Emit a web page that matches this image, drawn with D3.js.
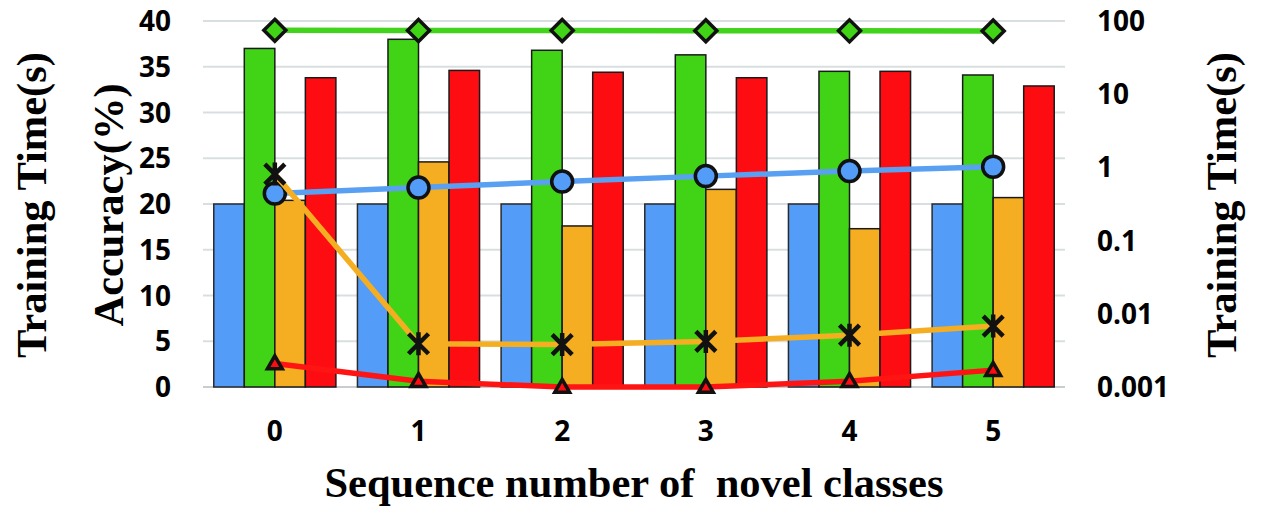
<!DOCTYPE html>
<html>
<head>
<meta charset="utf-8">
<script src="https://cdn.jsdelivr.net/npm/d3@7/dist/d3.min.js"></script>
<style>
  html, body { margin: 0; padding: 0; background: #fff; }
  svg { display: block; }
  .tick-label { font-family: "Open Sans", "Noto Sans", sans-serif; font-weight: 700; font-size: 28px; fill: #000; }
  .title { font-family: "Liberation Serif", "Times New Roman", serif; font-weight: 700; font-size: 42.5px; fill: #000; white-space: pre; }
</style>
</head>
<body>
<svg id="chart" width="1273" height="508"></svg>
<script>
// Categories along the x axis
const categories = ["0", "1", "2", "3", "4", "5"];

// Accuracy (%) bars, left axis
const accuracyBlue   = [20.0, 20.0, 20.0, 20.0, 20.0, 20.0];
const accuracyGreen  = [37.0, 38.0, 36.8, 36.3, 34.5, 34.1];
const accuracyOrange = [20.4, 24.6, 17.6, 21.6, 17.3, 20.7];
const accuracyRed    = [33.8, 34.6, 34.4, 33.8, 34.5, 32.9];

// Training time (s) lines, right log axis
const timeGreen  = [74.5, 74.3, 74.0, 73.5, 73.3, 73.2];
const timeBlue   = [0.44, 0.53, 0.64, 0.76, 0.89, 1.02];
const timeOrange = [0.81, 0.0039, 0.0038, 0.0042, 0.0051, 0.0068];
const timeRed    = [0.0021, 0.0012, 0.0010, 0.0010, 0.0012, 0.0017];

// Tick labels
const leftTicks  = [0, 5, 10, 15, 20, 25, 30, 35, 40];
const rightTicks = [0.001, 0.01, 0.1, 1, 10, 100];
const rightTickLabels = ["0.001", "0.01", "0.1", "1", "10", "100"];

const svg = d3.select("#chart");
const plot = { left: 203, right: 1065, top: 21, bottom: 387 };

const x0 = d3.scaleBand().domain(categories).range([plot.left, plot.right])
  .paddingInner(0.15).paddingOuter(0.075);
const barSeries = [
  { key: "blue",   values: accuracyBlue,   color: "#539CF7", stroke: "#2a2a2a" },
  { key: "green",  values: accuracyGreen,  color: "#41D416", stroke: "#1a1a1a" },
  { key: "orange", values: accuracyOrange, color: "#F5AE22", stroke: "#1a1a1a" },
  { key: "red",    values: accuracyRed,    color: "#FD0D12", stroke: "#1a1a1a" }
];
const x1 = d3.scaleBand().domain(barSeries.map(d => d.key)).range([0, x0.bandwidth()]).padding(0);
const yLeft = d3.scaleLinear().domain([0, 40]).range([plot.bottom, plot.top]);
const yRight = d3.scaleLog().domain([0.001, 100]).range([plot.bottom, plot.top]);

// Gridlines
svg.append("g").selectAll("line").data(leftTicks.filter(t => t > 0)).join("line")
  .attr("x1", plot.left).attr("x2", plot.right)
  .attr("y1", d => yLeft(d)).attr("y2", d => yLeft(d))
  .attr("stroke", "#d9dfe0").attr("stroke-width", 2);
svg.append("line")
  .attr("x1", plot.left).attr("x2", plot.right)
  .attr("y1", yLeft(0)).attr("y2", yLeft(0))
  .attr("stroke", "#c8cdd0").attr("stroke-width", 2);

// Bars
const groups = svg.append("g").selectAll("g").data(categories).join("g")
  .attr("transform", d => `translate(${x0(d)},0)`);
groups.selectAll("rect")
  .data((c, i) => barSeries.map(s => ({ s, v: s.values[i] })))
  .join("rect")
  .attr("x", d => x1(d.s.key))
  .attr("width", x1.bandwidth())
  .attr("y", d => yLeft(d.v))
  .attr("height", d => yLeft(0) - yLeft(d.v))
  .attr("fill", d => d.s.color)
  .attr("stroke", d => d.s.stroke)
  .attr("stroke-width", 1.5);

// Lines with markers
const cx = c => x0(c) + x0.bandwidth() / 2;
const lineGen = vals => d3.line().x((d, i) => cx(categories[i])).y(d => yRight(d))(vals);

const lineSeries = [
  { values: timeGreen,  color: "#42D41C", width: 5.5, marker: "diamond", fill: "#41D416" },
  { values: timeBlue,   color: "#5AA0F2", width: 5.5, marker: "circle",  fill: "#539CF7" },
  { values: timeOrange, color: "#F5AE22", width: 5.5, marker: "star",    fill: "none" },
  { values: timeRed,    color: "#FF1414", width: 5.5, marker: "triangle", fill: "#FD0D12" }
];

lineSeries.forEach(s => {
  const g = svg.append("g");
  g.append("path").attr("d", lineGen(s.values))
    .attr("fill", "none").attr("stroke", s.color).attr("stroke-width", s.width)
    .attr("stroke-linejoin", "round");
  const pts = g.selectAll("g.pt").data(s.values).join("g")
    .attr("transform", (d, i) => `translate(${cx(categories[i])},${yRight(d)})`);
  if (s.marker === "diamond") {
    pts.append("path").attr("d", "M0,-11L11,0L0,11L-11,0Z")
      .attr("fill", s.fill).attr("stroke", "#111").attr("stroke-width", 3.5);
  } else if (s.marker === "circle") {
    pts.append("circle").attr("r", 10.5)
      .attr("fill", s.fill).attr("stroke", "#111").attr("stroke-width", 3.5);
  } else if (s.marker === "star") {
    pts.append("path").attr("d", "M-10,-10L10,10M10,-10L-10,10M0,-11.5L0,11.5")
      .attr("fill", "none").attr("stroke", "#111").attr("stroke-width", 4.5);
  } else if (s.marker === "triangle") {
    pts.append("path").attr("d", d3.symbol(d3.symbolTriangle, 95)())
      .attr("transform", "translate(0,1)")
      .attr("fill", s.fill).attr("stroke", "#111").attr("stroke-width", 3.5)
      .attr("stroke-linejoin", "miter");
  }
});

// Left axis tick labels
svg.append("g").selectAll("text").data(leftTicks).join("text")
  .attr("class", "tick-label")
  .attr("x", 171).attr("y", d => yLeft(d))
  .attr("dy", "0.36em").attr("text-anchor", "end")
  .text(d => d);

// Right axis tick labels
svg.append("g").selectAll("text").data(rightTicks).join("text")
  .attr("class", "tick-label")
  .attr("x", 1097).attr("y", d => yRight(d))
  .attr("dy", "0.36em").attr("text-anchor", "start")
  .text((d, i) => rightTickLabels[i]);

// X axis tick labels
svg.append("g").selectAll("text").data(categories).join("text")
  .attr("class", "tick-label")
  .attr("x", d => cx(d)).attr("y", 441)
  .attr("text-anchor", "middle")
  .text(d => d);

// Axis titles
svg.append("text").attr("class", "title")
  .attr("x", 634).attr("y", 497).attr("text-anchor", "middle")
  .text("Sequence number of  novel classes");
svg.append("text").attr("class", "title")
  .attr("transform", "translate(46,205) rotate(-90)").attr("text-anchor", "middle")
  .text("Training Time(s)");
svg.append("text").attr("class", "title")
  .attr("transform", "translate(123,205) rotate(-90)").attr("text-anchor", "middle")
  .text("Accuracy(%)");
svg.append("text").attr("class", "title")
  .attr("transform", "translate(1236,205) rotate(-90)").attr("text-anchor", "middle")
  .text("Training Time(s)");
</script>
</body>
</html>
